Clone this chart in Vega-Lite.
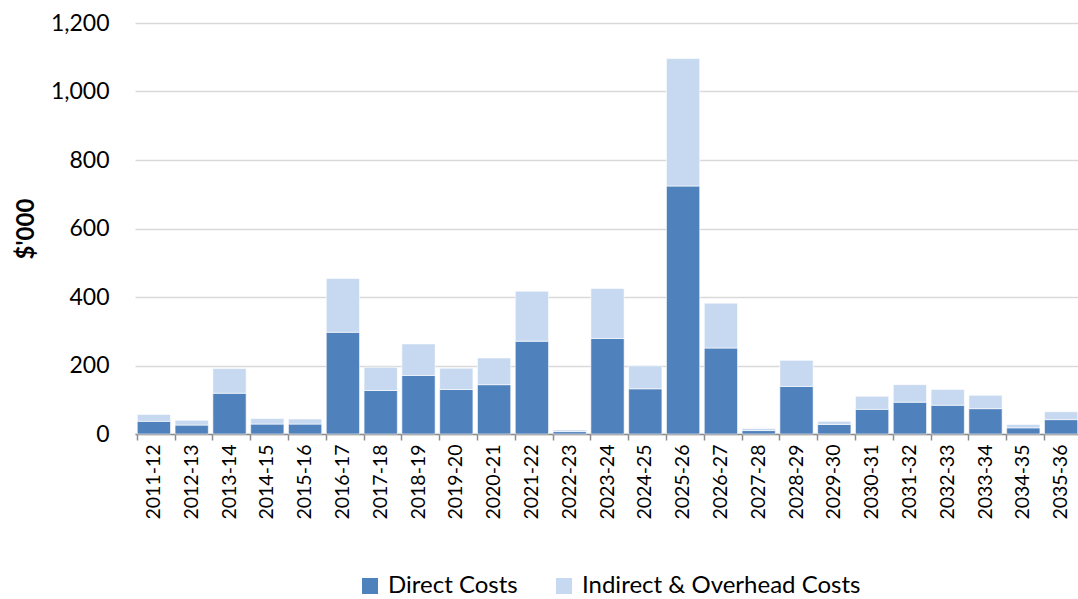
{
  "$schema": "https://vega.github.io/schema/vega-lite/v6.json",
  "width": 945,
  "height": 411,
  "autosize": {"type": "none"},
  "padding": {"left": 135, "top": 23, "right": 0, "bottom": 165},
  "background": "white",
  "config": {
    "font": "Lato",
    "view": {"stroke": null}
  },
  "data": {
    "values": [
      {"year": "2011-12", "type": "Direct Costs", "o": 1, "value": 37},
      {"year": "2011-12", "type": "Indirect & Overhead Costs", "o": 2, "value": 20},
      {"year": "2012-13", "type": "Direct Costs", "o": 1, "value": 26},
      {"year": "2012-13", "type": "Indirect & Overhead Costs", "o": 2, "value": 14},
      {"year": "2013-14", "type": "Direct Costs", "o": 1, "value": 119},
      {"year": "2013-14", "type": "Indirect & Overhead Costs", "o": 2, "value": 72},
      {"year": "2014-15", "type": "Direct Costs", "o": 1, "value": 29},
      {"year": "2014-15", "type": "Indirect & Overhead Costs", "o": 2, "value": 16},
      {"year": "2015-16", "type": "Direct Costs", "o": 1, "value": 29},
      {"year": "2015-16", "type": "Indirect & Overhead Costs", "o": 2, "value": 15},
      {"year": "2016-17", "type": "Direct Costs", "o": 1, "value": 297},
      {"year": "2016-17", "type": "Indirect & Overhead Costs", "o": 2, "value": 157},
      {"year": "2017-18", "type": "Direct Costs", "o": 1, "value": 127},
      {"year": "2017-18", "type": "Indirect & Overhead Costs", "o": 2, "value": 68},
      {"year": "2018-19", "type": "Direct Costs", "o": 1, "value": 171},
      {"year": "2018-19", "type": "Indirect & Overhead Costs", "o": 2, "value": 92},
      {"year": "2019-20", "type": "Direct Costs", "o": 1, "value": 130},
      {"year": "2019-20", "type": "Indirect & Overhead Costs", "o": 2, "value": 62},
      {"year": "2020-21", "type": "Direct Costs", "o": 1, "value": 144},
      {"year": "2020-21", "type": "Indirect & Overhead Costs", "o": 2, "value": 78},
      {"year": "2021-22", "type": "Direct Costs", "o": 1, "value": 271},
      {"year": "2021-22", "type": "Indirect & Overhead Costs", "o": 2, "value": 146},
      {"year": "2022-23", "type": "Direct Costs", "o": 1, "value": 7},
      {"year": "2022-23", "type": "Indirect & Overhead Costs", "o": 2, "value": 5},
      {"year": "2023-24", "type": "Direct Costs", "o": 1, "value": 279},
      {"year": "2023-24", "type": "Indirect & Overhead Costs", "o": 2, "value": 146},
      {"year": "2024-25", "type": "Direct Costs", "o": 1, "value": 132},
      {"year": "2024-25", "type": "Indirect & Overhead Costs", "o": 2, "value": 67},
      {"year": "2025-26", "type": "Direct Costs", "o": 1, "value": 724},
      {"year": "2025-26", "type": "Indirect & Overhead Costs", "o": 2, "value": 372},
      {"year": "2026-27", "type": "Direct Costs", "o": 1, "value": 251},
      {"year": "2026-27", "type": "Indirect & Overhead Costs", "o": 2, "value": 131},
      {"year": "2027-28", "type": "Direct Costs", "o": 1, "value": 10},
      {"year": "2027-28", "type": "Indirect & Overhead Costs", "o": 2, "value": 6},
      {"year": "2028-29", "type": "Direct Costs", "o": 1, "value": 139},
      {"year": "2028-29", "type": "Indirect & Overhead Costs", "o": 2, "value": 76},
      {"year": "2029-30", "type": "Direct Costs", "o": 1, "value": 28},
      {"year": "2029-30", "type": "Indirect & Overhead Costs", "o": 2, "value": 9},
      {"year": "2030-31", "type": "Direct Costs", "o": 1, "value": 72},
      {"year": "2030-31", "type": "Indirect & Overhead Costs", "o": 2, "value": 38},
      {"year": "2031-32", "type": "Direct Costs", "o": 1, "value": 93},
      {"year": "2031-32", "type": "Indirect & Overhead Costs", "o": 2, "value": 51},
      {"year": "2032-33", "type": "Direct Costs", "o": 1, "value": 84},
      {"year": "2032-33", "type": "Indirect & Overhead Costs", "o": 2, "value": 46},
      {"year": "2033-34", "type": "Direct Costs", "o": 1, "value": 74},
      {"year": "2033-34", "type": "Indirect & Overhead Costs", "o": 2, "value": 39},
      {"year": "2034-35", "type": "Direct Costs", "o": 1, "value": 18},
      {"year": "2034-35", "type": "Indirect & Overhead Costs", "o": 2, "value": 10},
      {"year": "2035-36", "type": "Direct Costs", "o": 1, "value": 42},
      {"year": "2035-36", "type": "Indirect & Overhead Costs", "o": 2, "value": 23}
    ]
  },
  "mark": {"type": "bar", "stroke": "white", "strokeWidth": 1, "strokeOpacity": 0.6},
  "encoding": {
    "x": {
      "field": "year",
      "type": "ordinal",
      "sort": null,
      "scale": {"paddingInner": 0.12, "paddingOuter": 0.06},
      "axis": {
        "title": null,
        "labelAngle": -90,
        "labelFontSize": 19.5,
        "labelColor": "#000000",
        "labelPadding": 4,
        "bandPosition": 0,
        "tickColor": "#8c8c8c",
        "tickSize": 6,
        "domainColor": "#8c8c8c",
        "domainWidth": 1.5,
        "tickWidth": 1.5
      }
    },
    "y": {
      "field": "value",
      "type": "quantitative",
      "stack": "zero",
      "scale": {"domain": [0, 1200]},
      "axis": {
        "title": "$'000",
        "titleFontSize": 24,
        "titleFontWeight": "bold",
        "titleColor": "#000000",
        "titlePadding": 12,
        "values": [0, 200, 400, 600, 800, 1000, 1200],
        "format": ",d",
        "labelFontSize": 23,
        "labelColor": "#000000",
        "labelPadding": 26,
        "ticks": false,
        "domain": false,
        "gridColor": "#d9d9d9",
        "gridWidth": 1.5
      }
    },
    "color": {
      "field": "type",
      "type": "nominal",
      "scale": {
        "domain": ["Direct Costs", "Indirect & Overhead Costs"],
        "range": ["#4F81BD", "#C6D9F0"]
      },
      "legend": {
        "title": null,
        "orient": "none",
        "legendX": 223,
        "legendY": 551,
        "direction": "horizontal",
        "symbolType": "square",
        "symbolSize": 256,
        "symbolStrokeWidth": 0,
        "labelFontSize": 24,
        "labelLimit": 0,
        "labelColor": "#000000",
        "columnPadding": 34,
        "labelOffset": 6
      }
    },
    "order": {"field": "o", "type": "quantitative"}
  }
}
